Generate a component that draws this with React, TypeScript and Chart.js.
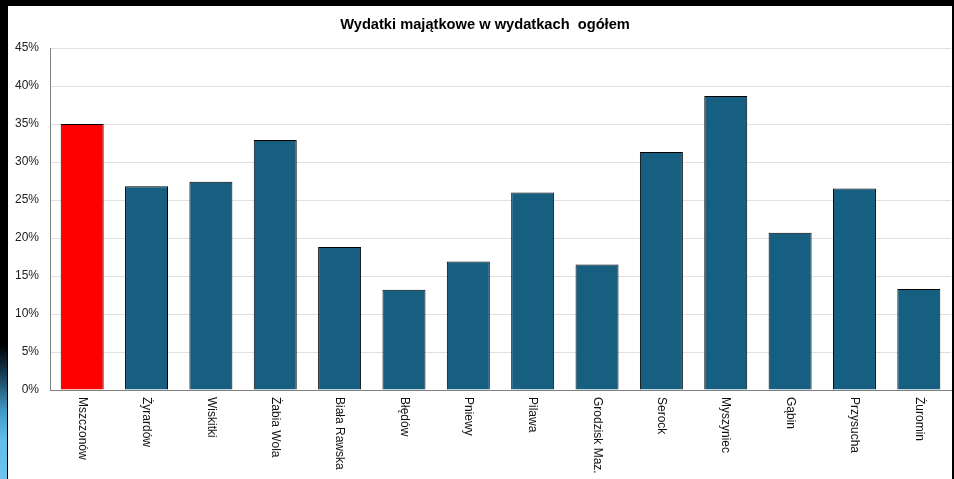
import React, { useEffect, useRef } from "react";
import { Chart, registerables } from "chart.js";

Chart.register(...registerables);

const TITLE = "Wydatki majątkowe w wydatkach  ogółem";
const categories = [
  "Mszczonów",
  "Żyrardów",
  "Wiskitki",
  "Żabia Wola",
  "Biała Rawska",
  "Błędów",
  "Pniewy",
  "Pilawa",
  "Grodzisk Maz.",
  "Serock",
  "Myszyniec",
  "Gąbin",
  "Przysucha",
  "Żuromin",
];
const values = [35.0, 26.8, 27.4, 32.9, 18.8, 13.2, 16.9, 26.0, 16.5, 31.3, 38.7, 20.7, 26.5, 13.3];
const highlightIndex = 0;
const yMax = 45;
const yStep = 5;

const FONT = 'Arial, "Liberation Sans", sans-serif';

export default function App() {
  const ref = useRef<HTMLCanvasElement | null>(null);

  useEffect(() => {
    if (!ref.current) return;
    const decorPlugin = {
      id: "decor",
      afterDraw(chart: any) {
        const xs = chart.scales.x;
        const ctx = chart.ctx;
        ctx.save();
        // title
        ctx.font = `bold 14.67px ${FONT}`;
        ctx.fillStyle = "#000";
        ctx.textAlign = "center";
        ctx.textBaseline = "middle";
        ctx.fillText(TITLE, 477, 18.5);
        // x labels rotated clockwise
        ctx.font = `12px ${FONT}`;
        ctx.fillStyle = "#111";
        ctx.textAlign = "left";
        ctx.textBaseline = "middle";
        categories.forEach((c, i) => {
          const x = xs.getPixelForValue(i);
          ctx.save();
          ctx.translate(x, xs.top + 7);
          ctx.rotate(Math.PI / 2);
          ctx.fillText(c, 0, 0);
          ctx.restore();
        });
        ctx.restore();
      },
    };

    const chart = new Chart(ref.current, {
      type: "bar",
      data: {
        labels: categories,
        datasets: [
          {
            data: values,
            backgroundColor: values.map((_, i) => (i === highlightIndex ? "#ff0000" : "#175f80")),
            borderColor: "#000000",
            borderWidth: 1,
            barPercentage: 0.668,
            categoryPercentage: 1,
          },
        ],
      },
      options: {
        responsive: false,
        maintainAspectRatio: false,
        animation: false,
        layout: { padding: { left: 0, right: 1, top: 42, bottom: 0 } },
        plugins: {
          legend: { display: false },
          tooltip: { enabled: false },
          title: { display: false },
        },
        scales: {
          x: {
            grid: { display: false },
            border: { display: true, color: "#808080", width: 1 },
            ticks: { display: false },
            afterFit(scale: any) {
              scale.height = 89;
            },
          },
          y: {
            min: 0,
            max: yMax,
            grid: { color: "#e0e0e0", lineWidth: 1, drawTicks: false },
            border: { display: true, color: "#808080", width: 1 },
            ticks: {
              stepSize: yStep,
              padding: 11,
              color: "#222",
              font: { family: FONT, size: 12 },
              callback: (v: any) => `${v}%`,
            },
            afterFit(scale: any) {
              scale.width = 42;
            },
          },
        },
      },
      plugins: [decorPlugin],
    });
    return () => chart.destroy();
  }, []);

  return (
    <div style={{ position: "fixed", left: 0, top: 0, width: 954, height: 479, background: "#000", overflow: "hidden" }}>
      <div
        style={{
          position: "absolute",
          left: 0,
          top: 0,
          width: 7,
          height: 479,
          background:
            "linear-gradient(to bottom, #000 0px, #000 345px, #163f55 375px, #3f97c4 410px, #62bde8 440px, #6cc4ee 479px)",
        }}
      />
      <div style={{ position: "absolute", left: 8, top: 6, width: 944, height: 473, background: "#fff" }}>
        <canvas ref={ref} width={944} height={473} style={{ display: "block" }} />
      </div>
    </div>
  );
}
